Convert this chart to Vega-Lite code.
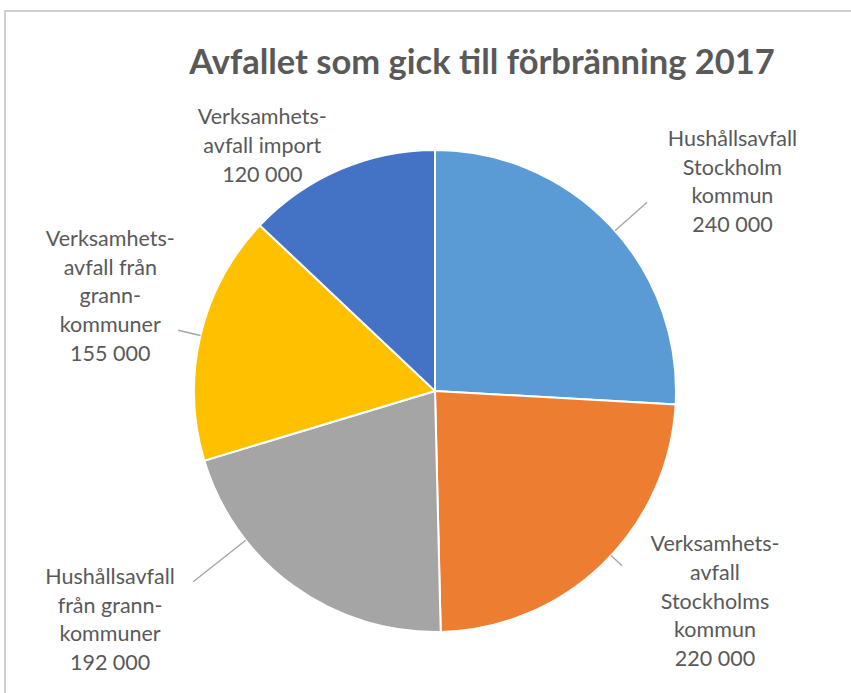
{
  "$schema": "https://vega.github.io/schema/vega-lite/v6.json",
  "width": 860,
  "height": 760,
  "autosize": "none",
  "padding": {"left": 5, "top": 11, "right": 0, "bottom": 0},
  "background": "white",
  "view": {"stroke": "#d0d0d0", "strokeWidth": 2, "fill": "white"},
  "title": {
    "text": "Avfallet som gick till förbränning 2017",
    "font": "Lato",
    "fontSize": 34.5,
    "fontWeight": "bold",
    "color": "#595959",
    "anchor": "middle",
    "frame": "group",
    "baseline": "alphabetic",
    "offset": -68,
    "dx": 47,
    "dy": 29
  },
  "data": {
    "values": [
      {"kategori": "Hushållsavfall Stockholm kommun", "ton": 240000, "rader": ["Hushållsavfall", "Stockholm", "kommun", "240 000"], "i": 1},
      {"kategori": "Verksamhetsavfall Stockholms kommun", "ton": 220000, "rader": ["Verksamhets-", "avfall", "Stockholms", "kommun", "220 000"], "i": 2},
      {"kategori": "Hushållsavfall från grannkommuner", "ton": 192000, "rader": ["Hushållsavfall", "från grann-", "kommuner", "192 000"], "i": 3},
      {"kategori": "Verksamhetsavfall från grannkommuner", "ton": 155000, "rader": ["Verksamhets-", "avfall från", "grann-", "kommuner", "155 000"], "i": 4},
      {"kategori": "Verksamhetsavfall import", "ton": 120000, "rader": ["Verksamhets-", "avfall import", "120 000"], "i": 5}
    ]
  },
  "encoding": {
    "theta": {"field": "ton", "type": "quantitative", "stack": true},
    "order": {"field": "i", "type": "quantitative"}
  },
  "layer": [
    {
      "mark": {"type": "arc", "radius": 241, "stroke": "white", "strokeWidth": 2},
      "encoding": {
        "color": {
          "field": "kategori",
          "type": "nominal",
          "sort": null,
          "legend": null,
          "scale": {
            "domain": ["Hushållsavfall Stockholm kommun", "Verksamhetsavfall Stockholms kommun", "Hushållsavfall från grannkommuner", "Verksamhetsavfall från grannkommuner", "Verksamhetsavfall import"],
            "range": ["#5B9BD5", "#ED7D31", "#A5A5A5", "#FFC000", "#4472C4"]
          }
        }
      }
    },
    {
      "mark": {
        "type": "arc",
        "fill": null,
        "stroke": "#a6a6a6",
        "strokeWidth": 1.4,
        "padAngle": 3.14159,
        "radius": {"expr": "[0, 284, 256, 308, 264, 241][datum.i]"},
        "radius2": 241,
        "thetaOffset": {"expr": "[0, 0.03, -0.05, 0.276, 0, 0][datum.i]"},
        "theta2Offset": {"expr": "[0, 0.03, -0.05, 0.276, 0, 0][datum.i]"},
        "strokeOpacity": {"expr": "datum.i == 5 ? 0 : 1"}
      }
    },
    {
      "mark": {
        "type": "text",
        "font": "Lato",
        "fontSize": 21.5,
        "color": "#595959",
        "align": "center",
        "baseline": "middle",
        "lineHeight": 28.7,
        "radius": {"expr": "[0, 363, 351, 398, 338, 299][datum.i]"},
        "thetaOffset": {"expr": "[0, 0.147, -0.154, 0.328, 0.049, -0.209][datum.i]"},
        "dy": {"expr": "-(length(datum.rader) - 1) * 14.35"}
      },
      "encoding": {
        "text": {"field": "rader"}
      }
    }
  ]
}
